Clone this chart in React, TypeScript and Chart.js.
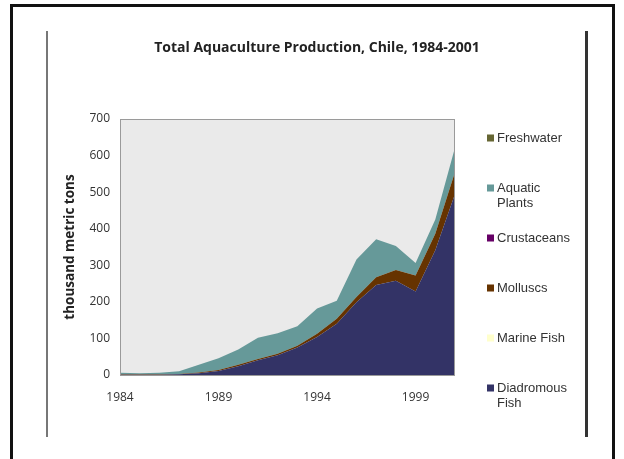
import { useEffect, useRef } from "react";
import { Chart, registerables } from "chart.js";

Chart.register(...registerables);

// Production by species group, thousand metric tons
const years = [
  "1984", "1985", "1986", "1987", "1988", "1989", "1990", "1991", "1992",
  "1993", "1994", "1995", "1996", "1997", "1998", "1999", "2000", "2001",
];
const labeledYears = ["1984", "1989", "1994", "1999"];
const yTicks = [0, 100, 200, 300, 400, 500, 600, 700];

const diadromousFish = [1, 1, 1, 2, 5, 11, 24, 40, 54, 75, 104, 140, 199, 246, 258, 228, 341, 495];
const marineFish = [0, 0, 0, 0, 0, 0, 0, 0, 0, 0, 0, 0, 0, 0, 0, 0, 0, 0];
const molluscs = [1, 1, 1, 1, 2, 3, 4, 4, 4, 5, 9, 14, 14, 21, 29, 44, 45, 60];
const crustaceans = [0, 0, 0, 0, 0, 0, 0, 0, 0, 0, 0, 0, 0, 0, 0, 0, 0, 0];
const aquaticPlants = [4, 3, 4, 7, 21, 32, 42, 58, 56, 53, 69, 49, 103, 104, 66, 34, 39, 67];
const freshwater = [0, 0, 0, 0, 0, 0, 0, 0, 0, 0, 0, 0, 0, 0, 0, 0, 0, 0];

const chartTitle = "Total Aquaculture Production, Chile, 1984-2001";

// stacked bottom to top
const series = [
  { name: ["Diadromous", "Fish"], color: "#333366", data: diadromousFish },
  { name: ["Marine Fish"], color: "#FFFFCC", data: marineFish },
  { name: ["Molluscs"], color: "#663300", data: molluscs },
  { name: ["Crustaceans"], color: "#660066", data: crustaceans },
  { name: ["Aquatic", "Plants"], color: "#669999", data: aquaticPlants },
  { name: ["Freshwater"], color: "#666633", data: freshwater },
];

// panel edges (inner frame lines)
const PANEL_LEFT = 46;
const PANEL_RIGHT = 588;
const PANEL_TOP = 31;

const plotFrame = {
  id: "plotFrame",
  beforeDatasetsDraw(chart: any) {
    const { ctx, chartArea: a } = chart;
    ctx.save();
    ctx.fillStyle = "#EAEAEA";
    ctx.fillRect(a.left, a.top, a.right - a.left, a.bottom - a.top);
    ctx.restore();
  },
  afterDatasetsDraw(chart: any) {
    const { ctx, chartArea: a } = chart;
    ctx.save();
    ctx.strokeStyle = "#9A9A9A";
    ctx.lineWidth = 1;
    ctx.strokeRect(a.left + 0.5, a.top + 0.5, a.right - a.left - 1, a.bottom - a.top);
    ctx.restore();
  },
};

// Title centred across the whole panel
const panelTitle = {
  id: "panelTitle",
  afterDraw(chart: any) {
    const { ctx } = chart;
    ctx.save();
    ctx.font = "bold 14px 'Open Sans', sans-serif";
    ctx.fillStyle = "#222";
    ctx.textAlign = "center";
    ctx.textBaseline = "middle";
    ctx.fillText(chartTitle, (PANEL_LEFT + PANEL_RIGHT) / 2, PANEL_TOP + 17);
    ctx.restore();
  },
};

// Legend drawn top to bottom in reverse stack order, with wrapped names
const sideLegend = {
  id: "sideLegend",
  afterDraw(chart: any) {
    const { ctx, chartArea: a } = chart;
    const x = a.right + 32;
    let y = a.top + 19;
    ctx.save();
    ctx.font = "13px 'Liberation Sans', Arial, sans-serif";
    ctx.textBaseline = "middle";
    [...series].reverse().forEach((s) => {
      ctx.fillStyle = s.color;
      ctx.fillRect(x, y - 3.5, 7, 7);
      ctx.fillStyle = "#333";
      s.name.forEach((line, i) => {
        ctx.fillText(line, x + 10, y + i * 15);
      });
      y += 50;
    });
    ctx.restore();
  },
};

export default function App() {
  const canvasRef = useRef<HTMLCanvasElement | null>(null);

  useEffect(() => {
    const canvas = canvasRef.current;
    if (!canvas) return;
    const chart = new Chart(canvas, {
      type: "line",
      data: {
        labels: years,
        datasets: series.map((s, i) => ({
          label: s.name.join(" "),
          data: s.data,
          backgroundColor: s.color,
          borderColor: s.color,
          borderWidth: 0,
          pointRadius: 0,
          tension: 0,
          fill: i === 0 ? "origin" : "-1",
        })),
      },
      options: {
        animation: false,
        responsive: false,
        devicePixelRatio: 1,
        layout: { padding: { left: 50, right: 169, top: 119, bottom: 54 } },
        plugins: {
          legend: { display: false },
          tooltip: { enabled: false },
          title: { display: false },
        },
        scales: {
          x: {
            type: "category",
            grid: { display: false, drawTicks: false },
            border: { display: false },
            ticks: {
              autoSkip: false,
              maxRotation: 0,
              padding: 15,
              color: "#333",
              font: { family: "'Open Sans', sans-serif", size: 12 },
              callback: (_v: any, i: number) =>
                labeledYears.includes(years[i]) ? years[i] : "",
            },
            afterFit: (s: any) => {
              s.height = 30;
            },
          },
          y: {
            stacked: true,
            min: yTicks[0],
            max: yTicks[yTicks.length - 1],
            grid: { display: false, drawTicks: false },
            border: { display: false },
            ticks: {
              stepSize: yTicks[1] - yTicks[0],
              padding: 10,
              color: "#333",
              font: { family: "'Open Sans', sans-serif", size: 12 },
            },
            title: {
              display: true,
              text: "thousand metric tons",
              color: "#222",
              font: { family: "'Open Sans', sans-serif", size: 13.5, weight: "bold" },
              padding: { top: 12, bottom: 0 },
            },
            afterFit: (s: any) => {
              s.width = 70;
            },
          },
        },
      },
      plugins: [plotFrame, panelTitle, sideLegend],
    });
    return () => chart.destroy();
  }, []);

  return (
    <div
      style={{
        position: "absolute",
        left: 0,
        top: 0,
        width: 624,
        height: 459,
        overflow: "hidden",
        background: "#fff",
      }}
    >
      <div
        style={{
          position: "absolute",
          left: 10,
          top: 4,
          width: 605,
          height: 520,
          border: "3px solid #111",
          boxSizing: "border-box",
        }}
      />
      <div style={{ position: "absolute", left: PANEL_LEFT, top: PANEL_TOP, width: 2, height: 406, background: "#777" }} />
      <div style={{ position: "absolute", left: PANEL_RIGHT - 3, top: PANEL_TOP, width: 3, height: 406, background: "#333" }} />
      <canvas
        ref={canvasRef}
        width={624}
        height={459}
        style={{ position: "absolute", left: 0, top: 0, width: 624, height: 459 }}
      />
    </div>
  );
}
